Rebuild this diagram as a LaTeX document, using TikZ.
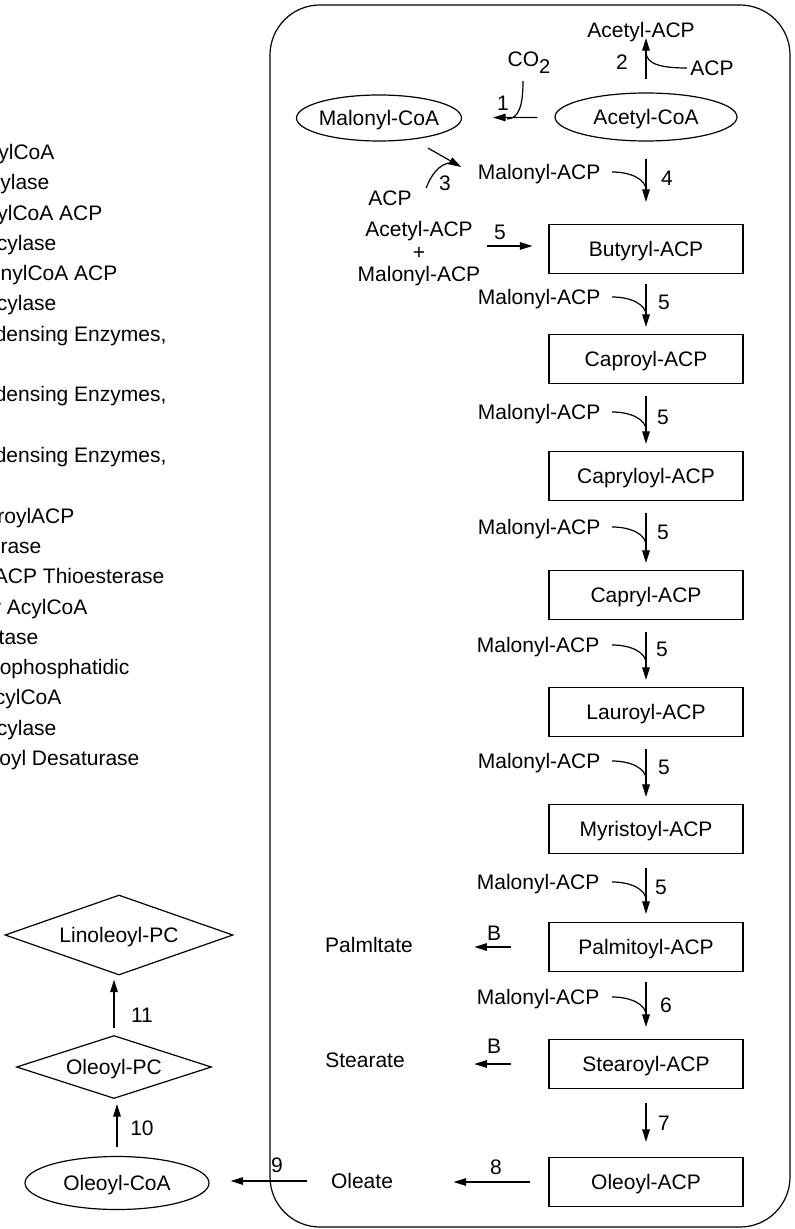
\documentclass[tikz,border=0pt]{standalone}
\usepackage{fontspec}
\setmainfont{Liberation Sans}
\usetikzlibrary{arrows.meta,shapes.geometric}

\begin{document}
\begin{tikzpicture}[x=0.5pt, y=-0.5pt, >={Triangle[length=6.3pt,width=3.8pt]}, line width=0.6pt,
  every node/.style={font=\fontsize{10.5}{12.6}\selectfont},
  txt/.style={inner sep=0pt, text height=7.5pt, text depth=0pt},
  acpbox/.style={draw, rectangle, inner sep=0pt, text height=7.5pt, text depth=0pt,
    minimum width=97pt, minimum height=24.5pt},
  coabox/.style={draw, ellipse, inner ysep=0pt, inner xsep=-4pt, text height=7.5pt, text depth=0pt},
  pcbox/.style={draw, diamond, aspect=3, inner sep=0pt, text height=7.5pt, text depth=0pt}]
  \useasboundingbox (0,0) rectangle (795,1229);
  \clip (0,0) rectangle (795,1229);

  % enzyme list, cut at the left edge
  \node[txt, anchor=east] (leg1) at (55,152) {ylCoA};
  \node[txt, anchor=east] (leg2) at (50,182.3) {ylase};
  \node[txt, anchor=east] (leg3) at (103,212.6) {ylCoA ACP};
  \node[txt, anchor=east] (leg4) at (57,242.9) {cylase};
  \node[txt, anchor=east] (leg5) at (118,273.2) {onylCoA ACP};
  \node[txt, anchor=east] (leg6) at (57,303.5) {cylase};
  \node[txt, anchor=east] (leg7) at (167,333.8) {densing Enzymes,};
  \node[txt, anchor=east] (leg8) at (167,394.4) {densing Enzymes,};
  \node[txt, anchor=east] (leg9) at (167,455) {densing Enzymes,};
  \node[txt, anchor=east] (leg10) at (75,515.6) {roylACP};
  \node[txt, anchor=east] (leg11) at (42,546) {rase};
  \node[txt, anchor=east] (leg12) at (165,576.2) {ACP Thioesterase};
  \node[txt, anchor=east] (leg13) at (88,606.5) {y AcylCoA};
  \node[txt, anchor=east] (leg14) at (39,636.8) {tase};
  \node[txt, anchor=east] (leg15) at (130,667.1) {ophosphatidic};
  \node[txt, anchor=east] (leg16) at (62,697.4) {cylCoA};
  \node[txt, anchor=east] (leg17) at (57,727.7) {cylase};
  \node[txt, anchor=east] (leg18) at (140,758) {oyl Desaturase};

  % plastid outline
  \draw[rounded corners=25pt] (270,5) rectangle (790,1227);

  % top: CoA esters
  \node[coabox, minimum width=82.5pt, minimum height=23pt] (macoa) at (379,118) {Malonyl-CoA};
  \node[coabox, minimum width=91pt, minimum height=24pt] (accoa) at (646,117) {Acetyl-CoA};
  \node[txt] (acacp) at (641,30) {Acetyl-ACP};
  \node[txt] (co2) at (529,59) {CO\raisebox{-3.5pt}{\fontsize{10}{12}\selectfont 2}};
  \node[txt] (acp1) at (712,68) {ACP};
  \node[txt] (n1) at (503,103) {1};
  \node[txt] (n2) at (622,62) {2};
  \coordinate (j1) at (507,119);
  \coordinate (j2) at (646,52);

  \draw[->, shorten <=8.5pt, shorten >=15.5pt] (accoa) -- (macoa);
  \draw ([xshift=-3pt,yshift=-7pt]co2.south) .. controls +(0,24) and +(12,0) .. (j1);
  \draw[->] ([yshift=6.5pt]accoa.north) -- (accoa.north |- acacp.south);
  \draw ([xshift=-1.5pt]acp1.west) .. controls +(-26,0) and +(0,12) .. (j2);

  % malonyl-ACP
  \node[txt, anchor=east] (mal0) at (601,172) {Malonyl-ACP};
  \node[txt] (acp2) at (390,198) {ACP};
  \node[txt] (n3) at (445,183) {3};
  \node[txt] (n4) at (667,178) {4};
  \coordinate (j3) at (457,163.5);
  \draw[->] ([xshift=24.5pt,yshift=-3.25pt]macoa.south) -- ([xshift=-8pt,yshift=2.5pt]mal0.west);
  \draw ([xshift=7pt,yshift=5pt]acp2.east) .. controls +(6,-16) and +(-14,-4) .. (j3);

  % chain elongation
  \node[acpbox] (but) at (646,249) {Butyryl-ACP};
  \node[align=center, inner sep=0pt, font=\fontsize{10.5}{11.25}\selectfont] (acmal) at (419,254)
    {Acetyl-ACP\\+\\Malonyl-ACP};
  \node[txt] (n5) at (500,232) {5};
  \draw[->, shorten <=8.5pt, shorten >=11pt] (accoa.south) -- (but.north);
  \draw ([xshift=5.5pt]mal0.east) .. controls +(20,0) and +(0,-10) .. ([yshift=-9pt]mal0.east -| but.north);
  \draw[->] ([xshift=3pt,yshift=1.5pt]acmal.east |- but.west) -- ([xshift=-8pt,yshift=1.5pt]but.west);

  \node[acpbox] (cap) at (646,359) {Caproyl-ACP};
  \node[txt, anchor=east] (mal1) at (601,297) {Malonyl-ACP};
  \node[txt] (n5a) at (664,302) {5};
  \draw[->, shorten <=5pt, shorten >=3.5pt] (but.south) -- (cap.north);
  \draw ([xshift=5.5pt]mal1.east) .. controls +(20,0) and +(0,-10) .. ([yshift=-9pt]mal1.east -| cap.north);

  \node[acpbox] (capl) at (646,476) {Capryloyl-ACP};
  \node[txt, anchor=east] (mal2) at (601,412) {Malonyl-ACP};
  \node[txt] (n5b) at (663,417) {5};
  \draw[->, shorten <=6pt, shorten >=3.5pt] (cap.south) -- (capl.north);
  \draw ([xshift=5.5pt]mal2.east) .. controls +(20,0) and +(0,-10) .. ([yshift=-9pt]mal2.east -| capl.north);

  \node[acpbox] (capr) at (646,595) {Capryl-ACP};
  \node[txt, anchor=east] (mal3) at (601,527) {Malonyl-ACP};
  \node[txt] (n5c) at (663,532) {5};
  \draw[->, shorten <=6pt, shorten >=3.5pt] (capl.south) -- (capr.north);
  \draw ([xshift=5.5pt]mal3.east) .. controls +(20,0) and +(0,-10) .. ([yshift=-9pt]mal3.east -| capr.north);

  \node[acpbox] (laur) at (646,712) {Lauroyl-ACP};
  \node[txt, anchor=east] (mal4) at (600,645) {Malonyl-ACP};
  \node[txt] (n5d) at (662,649) {5};
  \draw[->, shorten <=6pt, shorten >=3.5pt] (capr.south) -- (laur.north);
  \draw ([xshift=6pt]mal4.east) .. controls +(20,0) and +(0,-10) .. ([yshift=-9pt]mal4.east -| laur.north);

  \node[acpbox] (myr) at (646,829) {Myristoyl-ACP};
  \node[txt, anchor=east] (mal5) at (601,761) {Malonyl-ACP};
  \node[txt] (n5e) at (664,767) {5};
  \draw[->, shorten <=6pt, shorten >=3.5pt] (laur.south) -- (myr.north);
  \draw ([xshift=5.5pt]mal5.east) .. controls +(20,0) and +(0,-10) .. ([yshift=-9pt]mal5.east -| myr.north);

  \node[acpbox] (palm) at (646,947) {Palmitoyl-ACP};
  \node[txt, anchor=east] (mal6) at (600,882) {Malonyl-ACP};
  \node[txt] (n5f) at (661,887) {5};
  \draw[->, shorten <=7pt, shorten >=4pt] (myr.south) -- (palm.north);
  \draw ([xshift=6pt]mal6.east) .. controls +(20,0) and +(0,-10) .. ([yshift=-9pt]mal6.east -| palm.north);

  \node[acpbox] (stear) at (646,1064) {Stearoyl-ACP};
  \node[txt, anchor=east] (mal7) at (600,997) {Malonyl-ACP};
  \node[txt] (n6) at (666,1005) {6};
  \draw[->, shorten <=5pt, shorten >=6pt] (palm.south) -- (stear.north);
  \draw ([xshift=6pt]mal7.east) .. controls +(20,0) and +(0,-10) .. ([yshift=-9pt]mal7.east -| stear.north);

  \node[acpbox] (olacp) at (646,1182) {Oleoyl-ACP};
  \node[txt] (n7) at (664,1123) {7};
  \draw[->, shorten <=7pt, shorten >=7.5pt] (stear.south) -- (olacp.north);

  % free fatty acids
  \node[txt] (palmt) at (369,945) {Palmltate};
  \node[txt] (stearate) at (365,1060) {Stearate};
  \node[txt] (oleate) at (362,1181) {Oleate};
  \node[txt] (b1) at (494,933) {B};
  \node[txt] (b2) at (494,1046) {B};
  \node[txt] (n8) at (496,1167) {8};
  \node[txt] (n9) at (277,1165) {9};
  \draw[->, shorten <=18.5pt, shorten >=30.5pt] (palm.west) -- (palm.west -| palmt.east);
  \draw[->, shorten <=18.5pt, shorten >=34.5pt] (stear.west) -- (stear.west -| stearate.east);
  \draw[->, shorten <=9pt, shorten >=30pt] (olacp.west) -- (olacp.west -| oleate.east);

  % outside: acyl-CoA and PC
  \node[coabox, minimum width=92pt, minimum height=26.5pt] (olcoa) at (117,1183) {Oleoyl-CoA};
  \node[pcbox, minimum width=97.5pt, minimum height=31.5pt] (olpc) at (114,1067) {Oleoyl-PC};
  \node[pcbox, minimum width=114pt, minimum height=40pt] (linpc) at (119,935) {Linoleoyl-PC};
  \node[txt] (n10) at (142,1128) {10};
  \node[txt] (n11) at (142,1015) {11};
  \draw[->, shorten <=11.5pt, shorten >=10.5pt] (oleate.west) -- (oleate.west -| olcoa.east);
  \draw[->, shorten >=2.5pt] ([yshift=4.5pt]olcoa.north) -- (olcoa.north |- olpc.south);
  \draw[->, shorten <=3.5pt, shorten >=2pt] (olpc.north) -- (olpc.north |- linpc.south);
\end{tikzpicture}
\end{document}
